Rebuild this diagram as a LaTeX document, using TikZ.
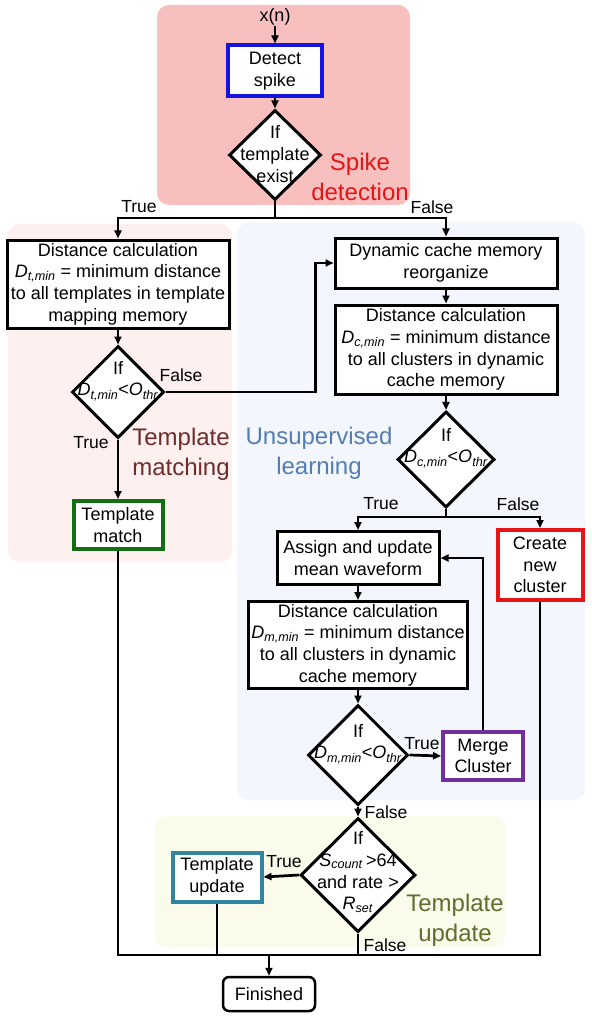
\documentclass[tikz,border=0pt]{standalone}
\usepackage{fontspec}
\setmainfont{Liberation Sans}
\usetikzlibrary{shapes.geometric,arrows.meta}
\definecolor{spikebg}{RGB}{248,191,191}
\definecolor{tmbg}{RGB}{254,240,239}
\definecolor{usbg}{RGB}{243,247,253}
\definecolor{tubg}{RGB}{250,251,234}
\definecolor{spikefg}{RGB}{230,20,20}
\definecolor{tmfg}{RGB}{110,45,45}
\definecolor{usfg}{RGB}{85,125,175}
\definecolor{tufg}{RGB}{95,110,45}
\definecolor{cblue}{RGB}{20,20,220}
\definecolor{cgreen}{RGB}{20,110,20}
\definecolor{cred}{RGB}{230,20,20}
\definecolor{cpurple}{RGB}{112,48,160}
\definecolor{cteal}{RGB}{49,133,160}
\newcommand{\VarSub}[2]{\textit{#1}\textsubscript{\textit{#2}}}
\tikzset{
  base/.style={font=\fontsize{18}{21.7}\selectfont},
  box/.style={draw, line width=3pt, fill=white, inner sep=0pt, align=center, base},
  cbox/.style={box, line width=4pt},
  dia/.style={draw, diamond, line width=3pt, fill=white, inner sep=0pt},
  dtext/.style={base, align=center, inner sep=0pt},
  conn/.style={line width=2.7pt},
  arr/.style={conn, -{Triangle[length=8pt,width=7pt]}},
  lbl/.style={font=\fontsize{17.5}{20}\selectfont, inner sep=0pt},
  grp/.style={font=\fontsize{24}{30}\selectfont, align=center, inner sep=0pt},
  bgbox/.style={rounded corners=12pt, draw=none}
}
\begin{document}
\begin{tikzpicture}[x=1pt,y=-1pt]
\useasboundingbox[fill=white] (0,0) rectangle (591,1016);
% backgrounds
\fill[spikebg, bgbox] (157,5) rectangle (410,205);
\fill[tmbg, bgbox] (8,224) rectangle (232,562);
\fill[usbg, bgbox] (237,222) rectangle (585,800);
\fill[tubg, bgbox] (155,816) rectangle (505,947);
% group labels
\node[grp, text=spikefg] (gspike) at (360,177) {Spike\\detection};
\node[grp, text=tmfg] (gtm) at (181,454) {Template\\matching};
\node[grp, text=usfg] (gus) at (319,453) {Unsupervised\\learning};
\node[grp, text=tufg] (gtu) at (455,920) {Template\\update};
% nodes
\node[base, inner sep=0pt] (xn) at (275,17) {x(n)};
\node[cbox, draw=cblue, minimum width=94, minimum height=51] (detect) at (275,71) {Detect\\spike};
\node[dia, minimum width=92, minimum height=90] (d1) at (275,155) {};
\node[dtext] (d1t) at (275,154) {If\\template\\exist};
\node[box, minimum width=222, minimum height=88] (dc1) at (118,284)
  {Distance calculation\\\VarSub{D}{t,min} = minimum distance\\to all templates in template\\mapping memory};
\node[dia, minimum width=92, minimum height=92] (d2) at (118,392) {};
\node[dtext] (d2t) at (118,381) {If\\\VarSub{D}{t,min}<\VarSub{O}{thr}};
\node[cbox, draw=cgreen, minimum width=89, minimum height=48] (tm) at (118,525) {Template\\match};
\node[box, minimum width=222, minimum height=50] (dcr) at (446,263) {Dynamic cache memory\\reorganize};
\node[box, minimum width=222, minimum height=89] (dc2) at (446,349.5)
  {Distance calculation\\\VarSub{D}{c,min} = minimum distance\\to all clusters in dynamic\\cache memory};
\node[dia, minimum width=97, minimum height=96] (d3) at (446,459.5) {};
\node[dtext] (d3t) at (446,448) {If\\\VarSub{D}{c,min}<\VarSub{O}{thr}};
\node[box, minimum width=162, minimum height=53] (assign) at (358,558) {Assign and update\\mean waveform};
\node[cbox, draw=cred, minimum width=85, minimum height=70] (create) at (540,565) {Create\\new\\cluster};
\node[box, minimum width=219, minimum height=87] (dc3) at (358,645)
  {Distance calculation\\\VarSub{D}{m,min} = minimum distance\\to all clusters in dynamic\\cache memory};
\node[dia, minimum width=100, minimum height=100] (d4) at (358,755) {};
\node[dtext] (d4t) at (358,744) {If\\\VarSub{D}{m,min}<\VarSub{O}{thr}};
\node[cbox, draw=cpurple, minimum width=80, minimum height=48] (merge) at (483,756) {Merge\\Cluster};
\node[dia, minimum width=115, minimum height=114] (d5) at (358,875) {};
\node[dtext] (d5t) at (358,872) {If\\\VarSub{S}{count}\,>64\\and rate >\\\VarSub{R}{set}};
\node[cbox, draw=cteal, minimum width=89, minimum height=49] (tu) at (217,877) {Template\\update};
\node[box, line width=2.5pt, rounded corners=6pt, minimum width=92, minimum height=34] (fin) at (269,994) {Finished};
% junction coordinates
\coordinate (j1) at (275,218);
\coordinate (j3) at (446,517);
\coordinate (bl) at (118,955);
\coordinate (br) at (540,955);
\coordinate (bm) at (269,955);
% connectors
\draw[arr] (xn) -- (detect);
\draw[arr] (detect) -- (d1);
\draw[conn] (d1.south) -- (j1);
\draw[arr] (j1) -| (dc1.north);
\draw[arr] (j1) -| (dcr.north);
\draw[arr] (dc1) -- (d2);
\draw[arr] (d2.east) -- ++(150,0) |- (dcr.west);
\draw[arr] (d2) -- (tm);
\draw[arr] (dcr) -- (dc2);
\draw[arr] (dc2) -- (d3);
\draw[conn] (d3.south) -- (j3);
\draw[arr] (j3) -| (assign.north);
\draw[arr] (j3) -| (create.north);
\draw[arr] (assign) -- (dc3);
\draw[arr] (dc3) -- (d4);
\draw[arr] (d4.east) -- (merge.west);
\draw[arr] (merge.north) |- (assign.east);
\draw[arr] (d4.south) -- (d5.north);
\draw[arr] (d5.west) -- (tu.east);
\draw[conn] (tm.south) -- (bl) -- (br) -- (create.south);
\draw[conn] (tu.south) -- (tu.south |- bl);
\draw[conn] (d5.south) -- (d5.south |- bl);
\draw[arr] (bm) -- (fin.north);
% connector labels
\node[lbl] (lt1) at (139,207) {True};
\node[lbl] (lf1) at (432,207) {False};
\node[lbl] (lf2) at (181,375) {False};
\node[lbl] (lt2) at (91,443) {True};
\node[lbl] (lt3) at (381,504) {True};
\node[lbl] (lf3) at (518,504) {False};
\node[lbl] (lt4) at (422,744) {True};
\node[lbl] (lf4) at (386,812) {False};
\node[lbl] (lt5) at (284,862) {True};
\node[lbl] (lf5) at (385,945) {False};
\end{tikzpicture}
\end{document}
